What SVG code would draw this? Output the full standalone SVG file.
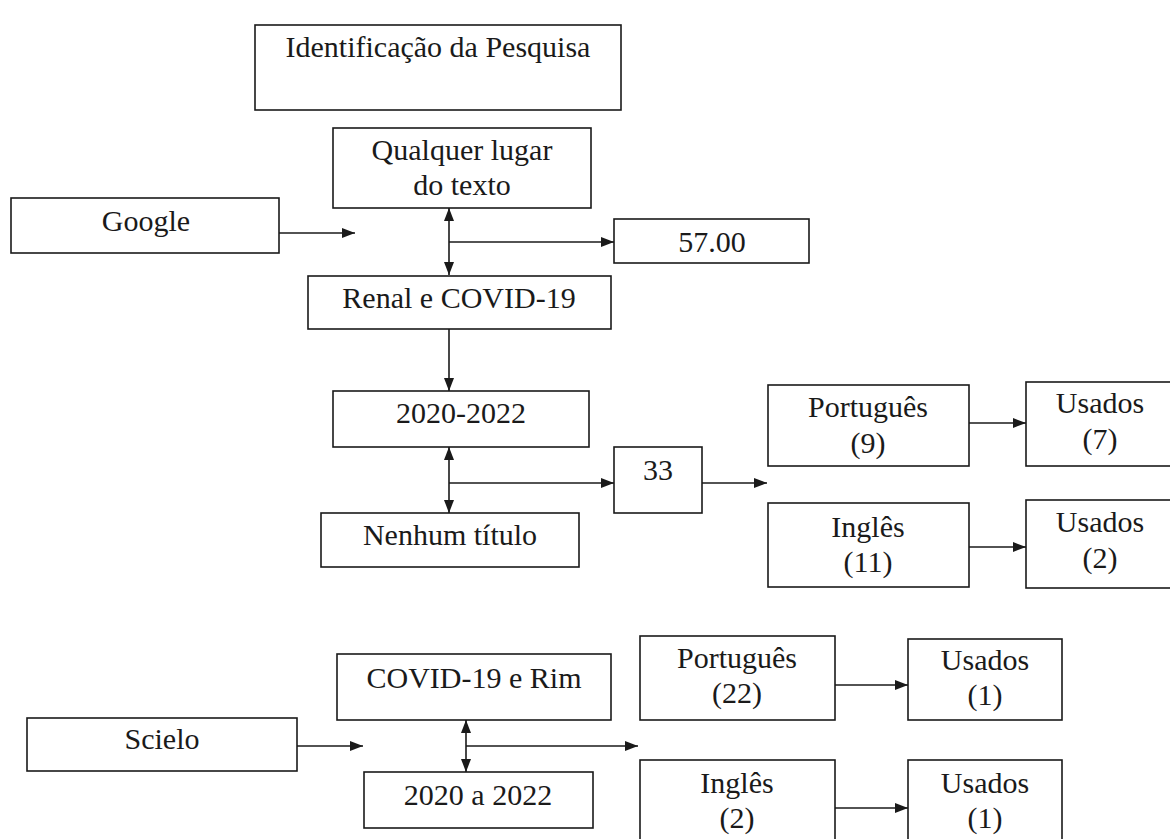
<svg xmlns="http://www.w3.org/2000/svg" width="1170" height="839" viewBox="0 0 1170 839">
<style>
.box{fill:#fff;stroke:#1a1a1a;stroke-width:1.6}
.t{font-family:"Liberation Serif","Times New Roman",serif;font-size:30px;fill:#1a1a1a;text-anchor:middle}
.c{fill:none;stroke:#1a1a1a;stroke-width:1.6}
</style>
<defs>
<marker id="ah" viewBox="0 0 13 10" refX="13" refY="5" markerWidth="13" markerHeight="10" markerUnits="userSpaceOnUse" orient="auto-start-reverse"><path d="M0,0 L13,5 L0,10 z" fill="#1a1a1a"/></marker>
</defs>
<rect width="1170" height="839" fill="#fff"/>
<g id="connectors">
<path class="c" d="M279,233 H355" marker-end="url(#ah)"/>
<path class="c" d="M449,208 V275" marker-start="url(#ah)" marker-end="url(#ah)"/>
<path class="c" d="M449,242 H614" marker-end="url(#ah)"/>
<path class="c" d="M449,329 V391" marker-end="url(#ah)"/>
<path class="c" d="M449,447 V513" marker-start="url(#ah)" marker-end="url(#ah)"/>
<path class="c" d="M449,483 H614" marker-end="url(#ah)"/>
<path class="c" d="M702,483 H767" marker-end="url(#ah)"/>
<path class="c" d="M969,423 H1026" marker-end="url(#ah)"/>
<path class="c" d="M969,547 H1026" marker-end="url(#ah)"/>
<path class="c" d="M297,746 H363" marker-end="url(#ah)"/>
<path class="c" d="M466,720 V772" marker-start="url(#ah)" marker-end="url(#ah)"/>
<path class="c" d="M466,746 H638" marker-end="url(#ah)"/>
<path class="c" d="M835,685 H908" marker-end="url(#ah)"/>
<path class="c" d="M835,808 H908" marker-end="url(#ah)"/>
</g>
<g id="identificacao"><rect class="box" x="255" y="25" width="366" height="85"/><text class="t" x="438" y="57" font-size="25">Identificação da Pesquisa</text></g>
<g id="qualquer"><rect class="box" x="333" y="128" width="258" height="80"/><text class="t" x="462" y="160">Qualquer lugar</text><text class="t" x="462" y="195">do texto</text></g>
<g id="google"><rect class="box" x="11" y="198" width="268" height="55"/><text class="t" x="146" y="231">Google</text></g>
<g id="n5700"><rect class="box" x="614" y="219" width="195" height="44"/><text class="t" x="712" y="252">57.00</text></g>
<g id="renal"><rect class="box" x="308" y="276" width="303" height="53"/><text class="t" x="459" y="308">Renal e COVID-19</text></g>
<g id="periodo1"><rect class="box" x="333" y="391" width="256" height="56"/><text class="t" x="461" y="423">2020-2022</text></g>
<g id="n33"><rect class="box" x="614" y="447" width="88" height="66"/><text class="t" x="658" y="480">33</text></g>
<g id="nenhum"><rect class="box" x="321" y="513" width="258" height="54"/><text class="t" x="450" y="545">Nenhum título</text></g>
<g id="portugues9"><rect class="box" x="768" y="385" width="201" height="81"/><text class="t" x="868" y="417">Português</text><text class="t" x="868" y="453">(9)</text></g>
<g id="usados7"><rect class="box" x="1026" y="382" width="150" height="84"/><text class="t" x="1100" y="413">Usados</text><text class="t" x="1100" y="449">(7)</text></g>
<g id="ingles11"><rect class="box" x="768" y="503" width="201" height="84"/><text class="t" x="868" y="537">Inglês</text><text class="t" x="868" y="572">(11)</text></g>
<g id="usados2"><rect class="box" x="1026" y="500" width="150" height="88"/><text class="t" x="1100" y="532">Usados</text><text class="t" x="1100" y="568">(2)</text></g>
<g id="scielo"><rect class="box" x="27" y="718" width="270" height="53"/><text class="t" x="162" y="749">Scielo</text></g>
<g id="covidrim"><rect class="box" x="337" y="654" width="274" height="66"/><text class="t" x="474" y="688">COVID-19 e Rim</text></g>
<g id="periodo2"><rect class="box" x="364" y="772" width="229" height="56"/><text class="t" x="478" y="805">2020 a 2022</text></g>
<g id="portugues22"><rect class="box" x="640" y="636" width="195" height="84"/><text class="t" x="737" y="668">Português</text><text class="t" x="737" y="703">(22)</text></g>
<g id="usados1a"><rect class="box" x="908" y="639" width="154" height="81"/><text class="t" x="985" y="670">Usados</text><text class="t" x="985" y="705">(1)</text></g>
<g id="ingles2"><rect class="box" x="640" y="760" width="195" height="92"/><text class="t" x="737" y="793">Inglês</text><text class="t" x="737" y="828">(2)</text></g>
<g id="usados1b"><rect class="box" x="908" y="760" width="154" height="92"/><text class="t" x="985" y="793">Usados</text><text class="t" x="985" y="828">(1)</text></g>
</svg>
